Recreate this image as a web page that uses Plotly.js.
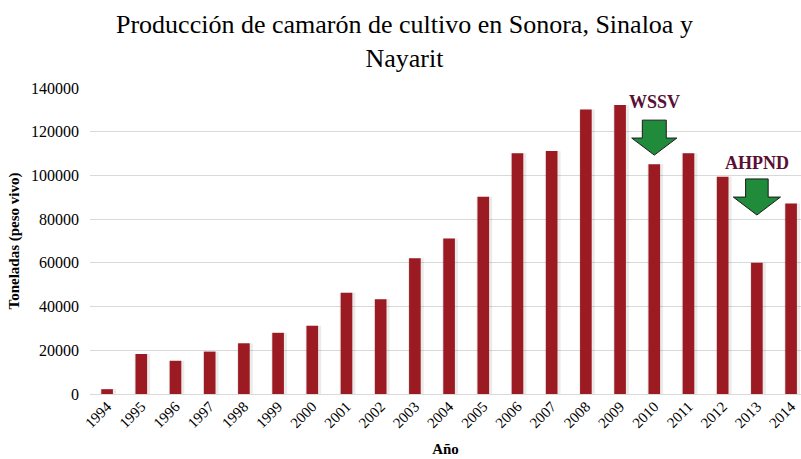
<!DOCTYPE html>
<html>
<head>
<meta charset="utf-8">
<script src="https://cdn.plot.ly/plotly-3.0.1.min.js"></script>
<style>html,body{margin:0;padding:0;background:#fff;}#chart{width:801px;height:459px;}</style>
</head>
<body>
<div id="chart"></div>
<script>
const years = ['1994','1995','1996','1997','1998','1999','2000','2001','2002','2003','2004','2005','2006','2007','2008','2009','2010','2011','2012','2013','2014'];
const production = [2200, 18300, 15200, 19400, 23200, 28000, 31200, 46300, 43300, 62100, 71200, 90300, 110100, 111200, 130200, 132200, 105100, 110100, 99400, 60100, 87200];
const yTicks = [0, 20000, 40000, 60000, 80000, 100000, 120000, 140000];
const events = [
  {label: 'WSSV', year: '2010', textY: 133600, tipY: 109300, topY: 125300, neckY: 117100},
  {label: 'AHPND', year: '2013', textY: 105700, tipY: 81900, topY: 98400, neckY: 90100}
];

const serif = 'Liberation Serif, Times New Roman, serif';
const barColor = '#9c1a21';

const traces = [
  {
    type: 'bar', x: years, y: production,
    width: 0.46, offset: -0.2,
    marker: {color: 'rgba(0,0,0,0.08)', line: {width: 0}},
    hoverinfo: 'skip', showlegend: false
  },
  {
    type: 'bar', x: years, y: production,
    width: 0.34,
    marker: {color: barColor, line: {width: 0}},
    showlegend: false
  }
];

// block arrows, drawn in data space around the year index
const shapes = events.map((e, i) => {
  const c = years.indexOf(e.year);
  const hw = i === 0 ? 0.66 : 0.69;   // half head width (category units)
  const sw = i === 0 ? 0.35 : 0.33;   // half shaft width
  const p = [
    [c, e.tipY], [c - hw, e.neckY], [c - sw, e.neckY], [c - sw, e.topY],
    [c + sw, e.topY], [c + sw, e.neckY], [c + hw, e.neckY]
  ];
  return {
    type: 'path', xref: 'x', yref: 'y',
    path: 'M' + p.map(q => q[0] + ',' + q[1]).join(' L') + ' Z',
    fillcolor: '#1f8b3b', line: {color: '#1a1a1a', width: 1}, layer: 'above'
  };
});

const annotations = events.map(e => ({
  x: years.indexOf(e.year), y: e.textY, xref: 'x', yref: 'y',
  text: '<b>' + e.label + '</b>', showarrow: false,
  font: {family: serif, size: 18, color: '#5a1035'},
  xanchor: 'center', yanchor: 'middle'
}));

annotations.push({
  xref: 'paper', yref: 'paper', x: 0.443, y: 1.2614,
  xanchor: 'center', yanchor: 'top', showarrow: false,
  text: 'Producción de camarón de cultivo en Sonora, Sinaloa y<br>Nayarit',
  font: {family: serif, size: 26, color: '#000'}
});

const layout = {
  width: 801, height: 459,
  paper_bgcolor: '#ffffff', plot_bgcolor: '#ffffff',
  font: {family: serif},
  margin: {l: 90, r: 0, t: 88, b: 65},
  barmode: 'overlay',
  xaxis: {
    type: 'category', range: [-0.5, 20.29],
    tickangle: -45, tickfont: {family: serif, size: 15, color: '#000'},
    showgrid: false, showline: false, zeroline: false, ticks: '',
    title: {text: '<b>Año</b>', font: {family: serif, size: 15, color: '#000'}, standoff: 13},
    automargin: false
  },
  yaxis: {
    range: [0, 140000], tickvals: yTicks, ticktext: yTicks.map(String),
    tickfont: {family: serif, size: 16, color: '#000'},
    showgrid: true, gridcolor: '#d9d9d9', gridwidth: 1,
    zeroline: true, zerolinecolor: '#d9d9d9', zerolinewidth: 1,
    showline: false, ticks: '', ticklabelstandoff: 10,
    title: {text: '<b>Toneladas (peso vivo)</b>', font: {family: serif, size: 15, color: '#000'}, standoff: 7},
    automargin: false
  },
  shapes: shapes,
  annotations: annotations
};

Plotly.newPlot('chart', traces, layout, {displayModeBar: false, staticPlot: true});
</script>
</body>
</html>
